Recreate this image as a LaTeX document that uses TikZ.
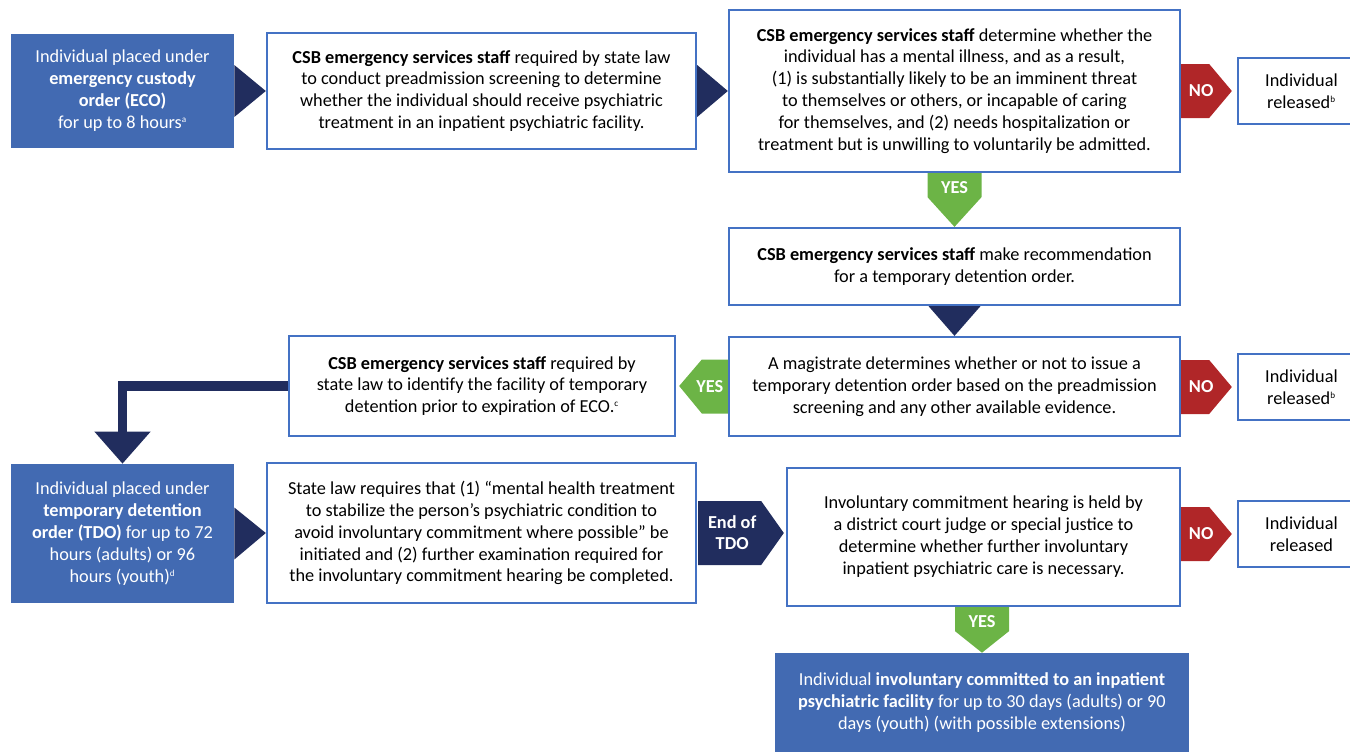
\documentclass[tikz,border=0pt]{standalone}
\usepackage{fontspec}
\setmainfont{Carlito}
\usepackage{xcolor}
\usepackage{tikz}
\usetikzlibrary{arrows.meta, positioning, calc}
\definecolor{lineblue}{RGB}{68,114,196}
\definecolor{fillblue}{RGB}{66,106,178}
\definecolor{deepnavy}{RGB}{33,45,94}
\definecolor{nored}{RGB}{176,38,40}
\definecolor{yesgreen}{RGB}{108,180,70}
\newcommand{\fn}[1]{\textsuperscript{\fontsize{6.5}{7}\selectfont #1}}
\tikzset{
txt/.style = {font = \fontsize{13}{15.6}\selectfont, align = center, inner sep = 0pt},
whitebox/.style = {txt, draw = lineblue, line width = 1.6pt, fill = white},
bluebox/.style = {txt, fill = fillblue, text = white},
tag/.style = {font = \fontsize{13}{15}\selectfont\bfseries, text = white, align = center, inner sep = 0pt}
}

\begin{document}
\begin{tikzpicture}[x = 0.025cm, y = -0.025cm]
\clip (0, 0) rectangle (1350, 752);
\node[bluebox, minimum width = 5.575cm, minimum height = 2.85cm] at (122.5, 91) (eco) {Individual placed under\\ \textbf{emergency custody}\\ \textbf{order (ECO)}\\ for up to 8 hours\fn{a}};
\node[whitebox, minimum width = 10.725cm, minimum height = 2.9cm] at (481.5, 91) (screen) {\textbf{CSB emergency services staff} required by state law\\ to conduct preadmission screening to determine\\ whether the individual should receive psychiatric\\ treatment in an inpatient psychiatric facility.};
\node[whitebox, minimum width = 11.275cm, minimum height = 4.05cm] at (954.5, 91) (crit) {\textbf{CSB emergency services staff} determine whether the\\ individual has a mental illness, and as a result,\\ (1) is substantially likely to be an imminent threat\\ to themselves or others, or incapable of caring\\ for themselves, and (2) needs hospitalization or\\ treatment but is unwilling to voluntarily be admitted.};
\node[whitebox, minimum width = 3.175cm, minimum height = 1.65cm] at (1301.5, 91) (relA) {Individual\\ released\fn{b}};
\node[whitebox, minimum width = 11.275cm, minimum height = 1.925cm] at (954.5, 266.5) (recom) {\textbf{CSB emergency services staff} make recommendation\\ for a temporary detention order.};
\node[whitebox, minimum width = 11.275cm, minimum height = 2.475cm] at (954.5, 386.5) (magis) {A magistrate determines whether or not to issue a\\ temporary detention order based on the preadmission\\ screening and any other available evidence.};
\node[whitebox, minimum width = 3.175cm, minimum height = 1.65cm] at (1301.5, 387) (relB) {Individual\\ released\fn{b}};
\node[whitebox, minimum width = 9.65cm, minimum height = 2.5cm] at (482, 386) (facil) {\textbf{CSB emergency services staff} required by\\ state law to identify the facility of temporary\\ detention prior to expiration of ECO.\fn{c}};
\node[bluebox, minimum width = 5.575cm, minimum height = 3.475cm] at (122.5, 533.5) (tdo) {Individual placed under\\ \textbf{temporary detention}\\ \textbf{order (TDO)} for up to 72\\ hours (adults) or 96\\ hours (youth)\fn{d}};
\node[whitebox, minimum width = 10.725cm, minimum height = 3.5cm] at (481.5, 533) (law) {State law requires that (1) “mental health treatment\\ to stabilize the person’s psychiatric condition to\\ avoid involuntary commitment where possible” be\\ initiated and (2) further examination required for\\ the involuntary commitment hearing be completed.};
\node[whitebox, minimum width = 9.825cm, minimum height = 3.45cm] at (983.5, 537) (hear) {Involuntary commitment hearing is held by\\ a district court judge or special justice to\\ determine whether further involuntary\\ inpatient psychiatric care is necessary.};
\node[whitebox, minimum width = 3.175cm, minimum height = 1.65cm] at (1301.5, 534) (relC) {Individual\\ released};
\node[bluebox, minimum width = 10.35cm, minimum height = 2.475cm] at (982, 702.5) (final) {Individual \textbf{involuntary committed to an inpatient}\\ \textbf{psychiatric facility} for up to 30 days (adults) or 90\\ days (youth) (with possible extensions)};
\foreach \a\b in {eco/screen, screen/crit, tdo/law}{\fill[deepnavy] ($(\a.east)+(0, -26)$) -- (\b.west) -- ($(\a.east)+(0, 26)$) -- cycle;}
\fill[deepnavy] ($(recom.south)+(-26, 0)$) -- (magis.north) -- ($(recom.south)+(26, 0)$) -- cycle;
\foreach \a\b in {crit/relA, magis/relB, hear/relC}{
\coordinate (s) at (\a.east |- \b.west);
\fill[nored] ($(s)+(0, -27)$) -- ($(s)+(28, -27)$) -- ($(\b.west)+(-5, 0)$) -- ($(s)+(28, 27)$) -- ($(s)+(0, 27)$) -- cycle;
\node[tag] at ($(s)+(20, 0)$) (no\a) {NO};}
\foreach \a\b in {crit/recom, hear/final}{
\coordinate (p) at (\a.south -| \b.north);
\fill[yesgreen] ($(p)+(-27, 0)$) -- ($(p)+(27, 0)$) -- ($(p)+(27, 24)$) -- (\b.north) -- ($(p)+(-27, 24)$) -- cycle;
\node[tag] at ($(p)+(0, 14)$) (yes\a) {YES};}
\fill[yesgreen] ($(magis.west)+(0, -27)$) -- ($(magis.west)+(-26, -27)$) -- ($(facil.east)+(3, 0)$) -- ($(magis.west)+(-26, 27)$) -- ($(magis.west)+(0, 27)$) -- cycle;
\node[tag] at ($(magis.west)+(-18, 0)$) (yesmagis) {YES};
\coordinate (e) at (law.east);
\fill[deepnavy] ($(e)+(1, -32)$) -- ($(e)+(64, -32)$) -- ($(hear.west |- e)+(-2, 0)$) -- ($(e)+(64, 32)$) -- ($(e)+(1, 32)$) -- cycle;
\node[tag] at ($(e)+(35, 0)$) (endtdo) {End of\\ TDO};
\draw[deepnavy, line width = 0.23cm, -{Triangle[width = 1.35cm, length = 0.8cm]}] (facil.west) -| (tdo.north);
\end{tikzpicture}
\end{document}
